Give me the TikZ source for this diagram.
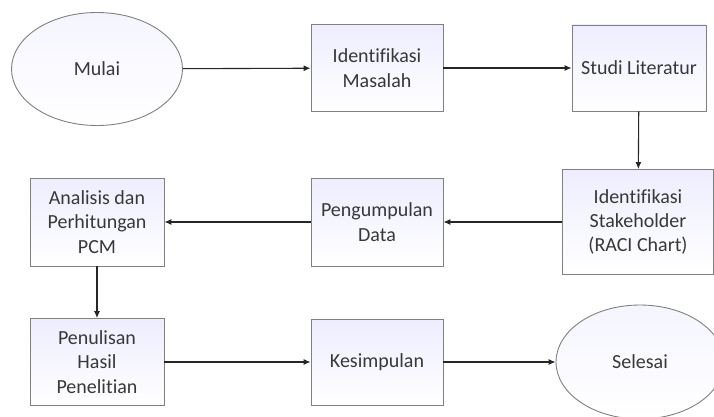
\documentclass[tikz,border=0pt]{standalone}
\usepackage{fontspec}
\setmainfont{Carlito}[Ligatures={NoCommon}]
\usetikzlibrary{shapes.geometric,arrows.meta}

\begin{document}
\begin{tikzpicture}[x=1pt,y=-1pt,
  box/.style={draw=black!50,line width=0.9pt,top color=blue!7,bottom color=white,
    text=black!78,align=center,inner sep=0pt,font=\fontsize{20}{24.4}\selectfont},
  oval/.style={box,ellipse,top color=blue!4},
  arr/.style={-{Latex[length=7pt,width=6pt]},line width=1.1pt,black!85}]
\useasboundingbox (0,0) rectangle (714,417);
\clip (0,0) rectangle (714,417);
% top row
\node[oval,minimum width=171,minimum height=113] (mulai) at (97,69) {Mulai};
\node[box,minimum width=132,minimum height=87] (masalah) at (377,68) {Identifikasi\\Masalah};
\node[box,minimum width=134,minimum height=86] (studi) at (639,68) {Studi Literatur};
% middle row
\node[box,minimum width=151,minimum height=105] (raci) at (638,222) {Identifikasi\\Stakeholder\\(RACI Chart)};
\node[box,minimum width=132,minimum height=88] (data) at (377,222) {Pengumpulan\\Data};
\node[box,minimum width=134,minimum height=88] (pcm) at (97,222) {Analisis dan\\Perhitungan\\PCM};
% bottom row
\node[box,minimum width=134,minimum height=87] (tulis) at (97,362) {Penulisan\\Hasil\\Penelitian};
\node[box,minimum width=132,minimum height=86] (simpul) at (377,362) {Kesimpulan};
\node[oval,minimum width=168,minimum height=114] (selesai) at (640,362) {Selesai};
%
\draw[arr] (mulai) -- (masalah);
\draw[arr] (masalah) -- (studi);
\draw[arr] (studi) -- (raci);
\draw[arr] (raci) -- (data);
\draw[arr] (data) -- (pcm);
\draw[arr] (pcm) -- (tulis);
\draw[arr] (tulis) -- (simpul);
\draw[arr] (simpul) -- (selesai);
\end{tikzpicture}
\end{document}
